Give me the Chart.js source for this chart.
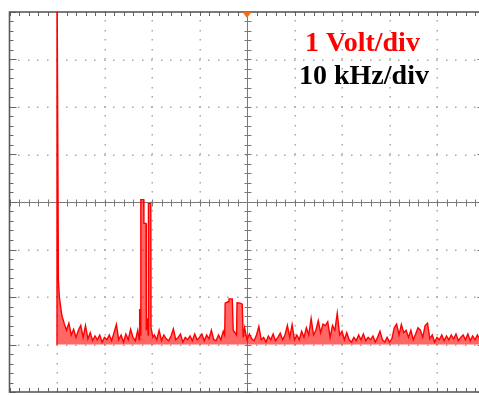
<!DOCTYPE html>
<html>
<head>
<meta charset="utf-8">
<script src="https://cdn.jsdelivr.net/npm/chart.js@4/dist/chart.umd.min.js"></script>
<style>
html,body{margin:0;padding:0;background:#fff;overflow:hidden;}
#wrap{width:495px;height:395px;}
</style>
</head>
<body>
<div id="wrap"><canvas id="c" width="495" height="395"></canvas></div>
<script>
// Frequency axis (kHz) and spectrum amplitude (V)
const freqKHz = [0,0,0.3,0.5,1.0,1.5,2.0,2.5,3.0,3.5,4.0,4.5,5.0,5.5,6.0,6.5,7.0,7.5,8.0,8.5,9.0,9.5,10,10.5,11,11.5,12,12.5,13,13.5,14,14.5,15,15.5,16,16.5,17,17.3,17.4,17.6,17.65,18.25,18.3,18.75,18.8,19.0,19.2,19.25,19.75,19.8,20.2,20.5,21,21.5,22,22.5,23,23.5,24,24.5,25,25.5,26,26.5,27,27.5,28,28.5,29,29.5,30,30.5,31,31.5,32,32.5,33,33.5,34,34.5,35,35.3,35.4,36.0,36.2,36.9,37.1,37.8,37.9,38.6,39.0,39.2,39.5,40,40.5,41,41.5,42,42.5,43,43.5,44,44.5,45,45.5,46,46.5,47,47.5,48,48.5,49,49.5,50,50.5,51,51.5,52,52.5,53,53.5,54,54.5,55,55.5,56,56.5,57,57.5,58,58.5,59,59.5,60,60.5,61,61.5,62,62.5,63,63.5,64,64.5,65,65.5,66,66.5,67,67.5,68,68.5,69,69.5,70,70.5,71,71.5,72,72.5,73,73.5,74,74.5,75,75.5,76,76.5,77,77.5,78,78.5,79,79.5,80,80.5,81,81.5,82,82.5,83,83.5,84,84.5,85,85.5,86,86.5,87,87.5,88,88.5,89];
const amplitudeV = [0,8,1.35,1.0,0.62,0.45,0.3,0.45,0.2,0.32,0.15,0.3,0.4,0.15,0.4,0.12,0.25,0.08,0.18,0.1,0.2,0.05,0.15,0.1,0.2,0.08,0.25,0.42,0.1,0.2,0.05,0.22,0.1,0.32,0.15,0.08,0.3,0.1,0.75,0.2,3.05,3.05,2.55,2.55,0.3,0.55,0.2,2.97,2.97,0.35,0.15,0.2,0.1,0.3,0.08,0.2,0.12,0.08,0.18,0.33,0.1,0.15,0.22,0.05,0.15,0.1,0.18,0.08,0.22,0.1,0.15,0.22,0.08,0.2,0.12,0.3,0.1,0.08,0.2,0.1,0.28,0.2,0.87,0.9,0.96,0.96,0.3,0.2,0.88,0.87,0.85,0.15,0.35,0.1,0.22,0.12,0.08,0.2,0.38,0.1,0.15,0.05,0.18,0.1,0.22,0.08,0.15,0.24,0.1,0.2,0.4,0.15,0.42,0.1,0.2,0.1,0.28,0.15,0.35,0.2,0.55,0.2,0.3,0.5,0.25,0.43,0.4,0.48,0.15,0.4,0.3,0.66,0.2,0.28,0.1,0.25,0.1,0.05,0.15,0.08,0.2,0.1,0.22,0.08,0.15,0.1,0.18,0.05,0.15,0.28,0.1,0.05,0.15,0.05,0.12,0.35,0.43,0.2,0.42,0.25,0.3,0.15,0.3,0.1,0.22,0.35,0.3,0.15,0.4,0.45,0.12,0.2,0.05,0.15,0.1,0.2,0.08,0.18,0.1,0.2,0.12,0.22,0.08,0.15,0.2,0.1,0.22,0.08,0.18,0.1,0.2,0.12];
// Graticule: 10 kHz/div horizontally, 1 V/div vertically
const xRangeKHz = [-10, 90];
const yRangeV = [-1, 7];
const xCenterKHz = 40;
const yCenterV = 3;
const labelVolt = "1 Volt/div";
const labelFreq = "10 kHz/div";

const points = freqKHz.map((f, i) => ({x: f, y: amplitudeV[i]}));

const graticule = {
  id: 'graticule',
  beforeDatasetsDraw(chart) {
    const ctx = chart.ctx, xs = chart.scales.x, ys = chart.scales.y;
    const L = xs.getPixelForValue(xRangeKHz[0]), R = xs.getPixelForValue(xRangeKHz[1]);
    const T = ys.getPixelForValue(yRangeV[1]), B = ys.getPixelForValue(yRangeV[0]);
    ctx.save();
    ctx.fillStyle = '#a8a8a8';
    for (let v = xRangeKHz[0] + 10; v < xRangeKHz[1]; v += 10) {
      if (v === xCenterKHz) continue;
      const px = Math.round(xs.getPixelForValue(v));
      for (let w = yRangeV[0]; w <= yRangeV[1] + 1e-9; w += 0.2) {
        const py = Math.round(ys.getPixelForValue(w));
        ctx.fillRect(px - 0.5, py - 1, 1.5, 1.5);
      }
    }
    for (let w = yRangeV[0] + 1; w < yRangeV[1]; w += 1) {
      if (w === yCenterV) continue;
      const py = Math.round(ys.getPixelForValue(w));
      for (let v = xRangeKHz[0]; v <= xRangeKHz[1] + 1e-9; v += 2) {
        const px = Math.round(xs.getPixelForValue(v));
        ctx.fillRect(px - 1, py - 0.5, 1.5, 1.5);
      }
    }
    ctx.strokeStyle = '#7a7a7a';
    ctx.lineWidth = 1;
    const cx = Math.round(xs.getPixelForValue(xCenterKHz)) + 0.5;
    const cy = Math.round(ys.getPixelForValue(yCenterV)) + 0.5;
    ctx.beginPath();
    ctx.moveTo(cx, T); ctx.lineTo(cx, B);
    ctx.moveTo(L, cy); ctx.lineTo(R, cy);
    for (let w = yRangeV[0]; w <= yRangeV[1] + 1e-9; w += 0.2) {
      const py = Math.round(ys.getPixelForValue(w)) + 0.5;
      ctx.moveTo(cx - 3, py); ctx.lineTo(cx + 4, py);
    }
    for (let v = xRangeKHz[0]; v <= xRangeKHz[1] + 1e-9; v += 2) {
      const px = Math.round(xs.getPixelForValue(v)) + 0.5;
      ctx.moveTo(px, cy - 3); ctx.lineTo(px, cy + 4);
    }
    ctx.stroke();
    ctx.strokeStyle = '#666';
    ctx.beginPath();
    for (let v = xRangeKHz[0]; v <= xRangeKHz[1] + 1e-9; v += 2) {
      const px = Math.round(xs.getPixelForValue(v)) + 0.5;
      ctx.moveTo(px, T); ctx.lineTo(px, T + 4);
      ctx.moveTo(px, B); ctx.lineTo(px, B - 4);
    }
    for (let w = yRangeV[0]; w <= yRangeV[1] + 1e-9; w += 0.2) {
      const py = Math.round(ys.getPixelForValue(w)) + 0.5;
      const major = Math.abs(w - Math.round(w)) < 1e-6;
      ctx.moveTo(L, py); ctx.lineTo(L + (major ? 7 : 4), py);
      ctx.moveTo(R, py); ctx.lineTo(R - (major ? 7 : 4), py);
    }
    ctx.stroke();
    ctx.strokeStyle = '#5a5a5a';
    ctx.lineWidth = 1.6;
    ctx.strokeRect(L, T, R - L, B - T);
    ctx.restore();
  },
  afterDatasetsDraw(chart) {
    const ctx = chart.ctx, xs = chart.scales.x, ys = chart.scales.y;
    const T = ys.getPixelForValue(yRangeV[1]);
    const cx = xs.getPixelForValue(xCenterKHz);
    ctx.save();
    ctx.fillStyle = '#f26a1b';
    ctx.beginPath();
    ctx.moveTo(cx - 4.5, T); ctx.lineTo(cx + 4.5, T); ctx.lineTo(cx, T + 6);
    ctx.closePath(); ctx.fill();
    ctx.textBaseline = 'alphabetic';
    ctx.font = 'bold 28px "Liberation Serif", "DejaVu Serif", serif';
    ctx.fillStyle = '#ff0000';
    ctx.fillText(labelVolt, 305, 51);
    ctx.fillStyle = '#000000';
    ctx.fillText(labelFreq, 299, 84);
    ctx.restore();
  }
};

new Chart(document.getElementById('c'), {
  type: 'line',
  data: {
    datasets: [{
      data: points,
      borderColor: '#ff0000',
      borderWidth: 1.4,
      backgroundColor: 'rgba(255,0,0,0.6)',
      fill: {value: 0},
      pointRadius: 0,
      tension: 0
    }]
  },
  options: {
    responsive: false,
    animation: false,
    layout: {padding: {left: 9.5, right: 10.5, top: 12, bottom: 3}},
    plugins: {legend: {display: false}, tooltip: {enabled: false}},
    scales: {
      x: {type: 'linear', min: xRangeKHz[0], max: xRangeKHz[1], display: false},
      y: {type: 'linear', min: yRangeV[0], max: yRangeV[1], display: false}
    }
  },
  plugins: [graticule]
});
</script>
</body>
</html>
